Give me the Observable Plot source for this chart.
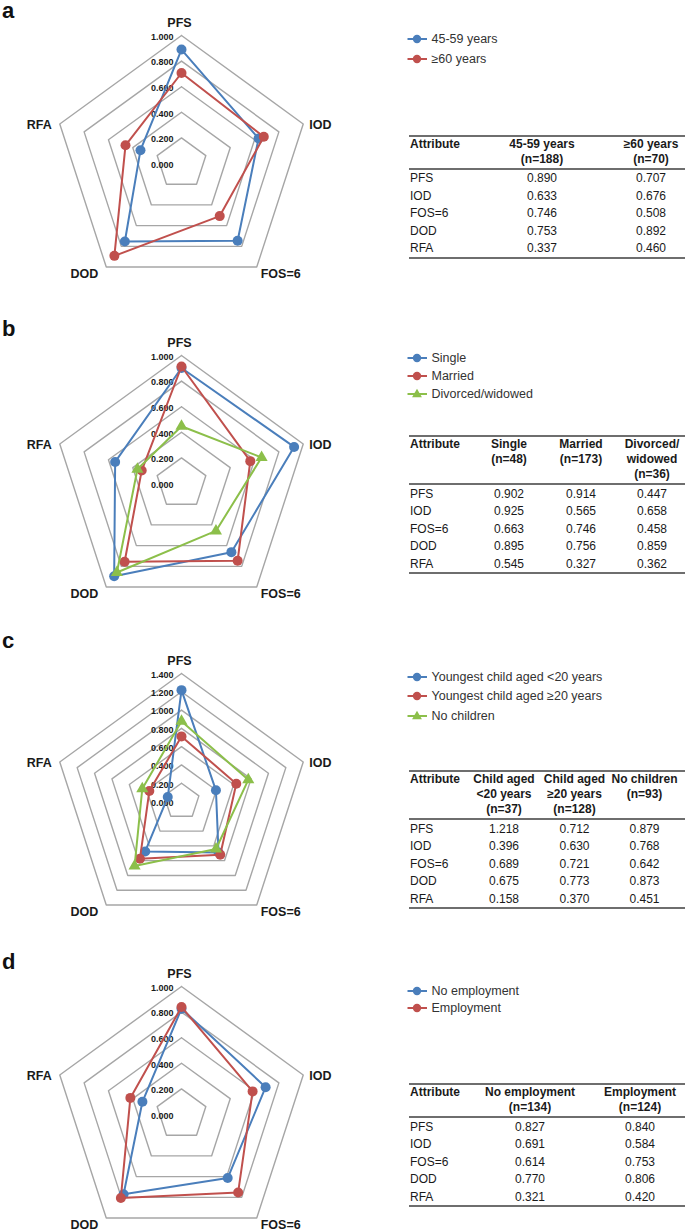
<!DOCTYPE html>
<html>
<head>
<meta charset="utf-8">
<script src="https://cdn.jsdelivr.net/npm/d3@7"></script>
<script src="https://cdn.jsdelivr.net/npm/@observablehq/plot@0.6"></script>
<style>
  html, body { margin: 0; padding: 0; background: #fff; }
  body { width: 685px; height: 1231px; overflow: hidden; position: relative;
         font-family: "Liberation Sans", Arial, Helvetica, sans-serif; }
  .abs { position: absolute; }
  .letter { font-weight: bold; font-size: 22px; color: #111; line-height: 1; }
  .leg { font-size: 12.5px; color: #333; white-space: nowrap; }
  .cell { font-size: 12px; color: #1a1a1a; white-space: nowrap; }
  .hdr { font-weight: bold; text-align: center; line-height: 15.3px; }
  .rule { background: #6e6e6e; height: 2px; }
</style>
</head>
<body>
<script>
// ---------------- data ----------------
const attributes = ["PFS", "IOD", "FOS=6", "DOD", "RFA"];

// Panel a
const seriesA = ["45-59 years", "≥60 years"];
const valuesA1 = [0.890, 0.633, 0.746, 0.753, 0.337];
const valuesA2 = [0.707, 0.676, 0.508, 0.892, 0.460];
const headerA = [["45-59 years", "(n=188)"], ["≥60 years", "(n=70)"]];
const ticksA = [0, 0.2, 0.4, 0.6, 0.8, 1.0];

// Panel b
const seriesB = ["Single", "Married", "Divorced/widowed"];
const valuesB1 = [0.902, 0.925, 0.663, 0.895, 0.545];
const valuesB2 = [0.914, 0.565, 0.746, 0.756, 0.327];
const valuesB3 = [0.447, 0.658, 0.458, 0.859, 0.362];
const headerB = [["Single", "(n=48)"], ["Married", "(n=173)"], ["Divorced/", "widowed", "(n=36)"]];
const ticksB = [0, 0.2, 0.4, 0.6, 0.8, 1.0];

// Panel c
const seriesC = ["Youngest child aged <20 years", "Youngest child aged ≥20 years", "No children"];
const valuesC1 = [1.218, 0.396, 0.689, 0.675, 0.158];
const valuesC2 = [0.712, 0.630, 0.721, 0.773, 0.370];
const valuesC3 = [0.879, 0.768, 0.642, 0.873, 0.451];
const headerC = [["Child aged", "<20 years", "(n=37)"], ["Child aged", "≥20 years", "(n=128)"], ["No children", "(n=93)"]];
const ticksC = [0, 0.2, 0.4, 0.6, 0.8, 1.0, 1.2, 1.4];

// Panel d
const seriesD = ["No employment", "Employment"];
const valuesD1 = [0.827, 0.691, 0.614, 0.770, 0.321];
const valuesD2 = [0.840, 0.584, 0.753, 0.806, 0.420];
const headerD = [["No employment", "(n=134)"], ["Employment", "(n=124)"]];
const ticksD = [0, 0.2, 0.4, 0.6, 0.8, 1.0];

const panelLetters = ["a", "b", "c", "d"];

// ---------------- style / layout ----------------
const colors = ["#4a7ebb", "#c0504d", "#8cbf4a"];
const symbols = ["circle", "circle", "triangle"];
const FONT = "Liberation Sans, Arial, Helvetica, sans-serif";

const layout = [
  {cy: 162.5, letterBase: 17.3, legend: [39, 58.5], table: {top: 136, cols: [542, 651]}},
  {cy: 482.5, letterBase: 335, legend: [358.3, 376, 393.7], table: {top: 436, cols: [509, 581, 652]}},
  {cy: 800.5, letterBase: 647.3, legend: [676.7, 696, 716], table: {top: 771, cols: [504, 574.5, 644.5]}},
  {cy: 1113.5, letterBase: 968.3, legend: [990.7, 1008.3], table: {top: 1084.3, cols: [530, 640]}}
];

const labelPlacement = [
  {anchor: "middle", dx: -2, dy: -13},
  {anchor: "start", dx: 6, dy: 1},
  {anchor: "start", dx: 4, dy: 7},
  {anchor: "end", dx: -8, dy: 7},
  {anchor: "end", dx: -8, dy: 1}
];

function radar(values, ticks) {
  const W = 340, H = 300, cx = 181, cy = 165, R = 128;
  const max = d3.max(ticks);
  const k = max / R;
  const ang = i => i * 2 * Math.PI / 5;
  const px = (v, i) => v * Math.sin(ang(i));
  const py = (v, i) => v * Math.cos(ang(i));
  const loop = [0, 1, 2, 3, 4, 0];
  const rings = ticks.filter(t => t > 0).flatMap(t => loop.map(i => ({t, i})));
  const marks = [
    Plot.line(rings, {x: d => px(d.t, d.i), y: d => py(d.t, d.i), z: "t", stroke: "#a6a6a6", strokeWidth: 1.4}),
    Plot.text(ticks, {x: () => 0, y: d => d, text: d => d.toFixed(3), textAnchor: "end", dx: -8, dy: 1.5,
                      fontSize: 9, fontWeight: "bold", fill: "#1a1a1a"})
  ];
  values.forEach((vals, s) => {
    const pts = loop.map(i => ({i, v: vals[i]}));
    marks.push(Plot.line(pts, {x: d => px(d.v, d.i), y: d => py(d.v, d.i), stroke: colors[s], strokeWidth: 2}));
    marks.push(Plot.dot(pts.slice(0, 5), {x: d => px(d.v, d.i), y: d => py(d.v, d.i), fill: colors[s],
                                          r: s === 2 ? 4.5 : 5, symbol: symbols[s], stroke: "none"}));
  });
  attributes.forEach((a, i) => {
    const p = labelPlacement[i];
    marks.push(Plot.text([{a, i}], {x: d => px(max, d.i), y: d => py(max, d.i), text: "a",
      textAnchor: p.anchor, dx: p.dx, dy: p.dy, fontSize: 12.5, fontWeight: "bold", fill: "#1a1a1a"}));
  });
  return Plot.plot({
    width: W, height: H, margin: 0,
    style: {fontFamily: FONT, background: "transparent", overflow: "visible"},
    x: {type: "linear", domain: [-cx * k, (W - cx) * k], range: [0, W], axis: null},
    y: {type: "linear", domain: [-(H - cy) * k, cy * k], range: [H, 0], axis: null},
    marks
  });
}

function el(tag, cls, css, text) {
  const e = document.createElement(tag);
  if (cls) e.className = cls;
  Object.assign(e.style, css);
  if (text != null) e.textContent = text;
  document.body.appendChild(e);
  return e;
}

function legend(names, ys) {
  names.forEach((n, s) => {
    const y = ys[s];
    const svg = d3.create("svg").attr("width", 24).attr("height", 12)
      .style("position", "absolute").style("left", "406px").style("top", (y - 6) + "px");
    svg.append("line").attr("x1", 1.5).attr("x2", 21).attr("y1", 6).attr("y2", 6)
      .attr("stroke", colors[s]).attr("stroke-width", 2);
    if (symbols[s] === "circle") {
      svg.append("circle").attr("cx", 11).attr("cy", 6).attr("r", 4.2).attr("fill", colors[s]);
    } else {
      svg.append("path").attr("d", d3.symbol(d3.symbolTriangle, 42)()).attr("transform", "translate(11,6.5)")
        .attr("fill", colors[s]);
    }
    document.body.appendChild(svg.node());
    el("div", "abs leg", {left: "431.5px", top: (y - 8) + "px", lineHeight: "16px"}, n);
  });
}

function table(headers, seriesVals, t) {
  const left = 409, right = 685;
  const nLines = d3.max(headers, h => h.length);
  const hdrH = nLines * 15.3 + 2.5;
  const hb = t.top + hdrH;
  const rowH = 17.5;
  el("div", "abs rule", {left: left + "px", width: (right - left) + "px", top: (t.top - 1) + "px"});
  el("div", "abs cell hdr", {left: "410px", top: (t.top + 0.5) + "px", textAlign: "left"}, "Attribute");
  headers.forEach((lines, c) => {
    const d = el("div", "abs cell hdr", {left: (t.cols[c] - 60) + "px", width: "120px", top: (t.top + 0.5) + "px"});
    d.innerHTML = lines.map(s => s.replace(/&/g, "&amp;").replace(/</g, "&lt;")).join("<br>");
  });
  el("div", "abs rule", {left: left + "px", width: (right - left) + "px", top: (hb - 1) + "px"});
  attributes.forEach((a, i) => {
    const top = hb + 1.2 + i * rowH;
    el("div", "abs cell", {left: "410px", top: top + "px", lineHeight: rowH + "px"}, a);
    seriesVals.forEach((vals, c) => {
      el("div", "abs cell", {left: (t.cols[c] - 40) + "px", width: "80px", textAlign: "center",
                             top: top + "px", lineHeight: rowH + "px"}, vals[i].toFixed(3));
    });
  });
  el("div", "abs rule", {left: left + "px", width: (right - left) + "px", top: (hb + 88.4 - 1) + "px"});
}

const panels = [
  {series: seriesA, values: [valuesA1, valuesA2], header: headerA, ticks: ticksA},
  {series: seriesB, values: [valuesB1, valuesB2, valuesB3], header: headerB, ticks: ticksB},
  {series: seriesC, values: [valuesC1, valuesC2, valuesC3], header: headerC, ticks: ticksC},
  {series: seriesD, values: [valuesD1, valuesD2], header: headerD, ticks: ticksD}
];

panels.forEach((p, j) => {
  const L = layout[j];
  const chart = radar(p.values, p.ticks);
  chart.style.position = "absolute";
  chart.style.left = "0px";
  chart.style.top = (L.cy - 165) + "px";
  document.body.appendChild(chart);
  el("div", "abs letter", {left: "2px", top: (L.letterBase - 17) + "px"}, panelLetters[j]);
  legend(p.series, L.legend);
  table(p.header, p.values, L.table);
});
</script>
</body>
</html>
